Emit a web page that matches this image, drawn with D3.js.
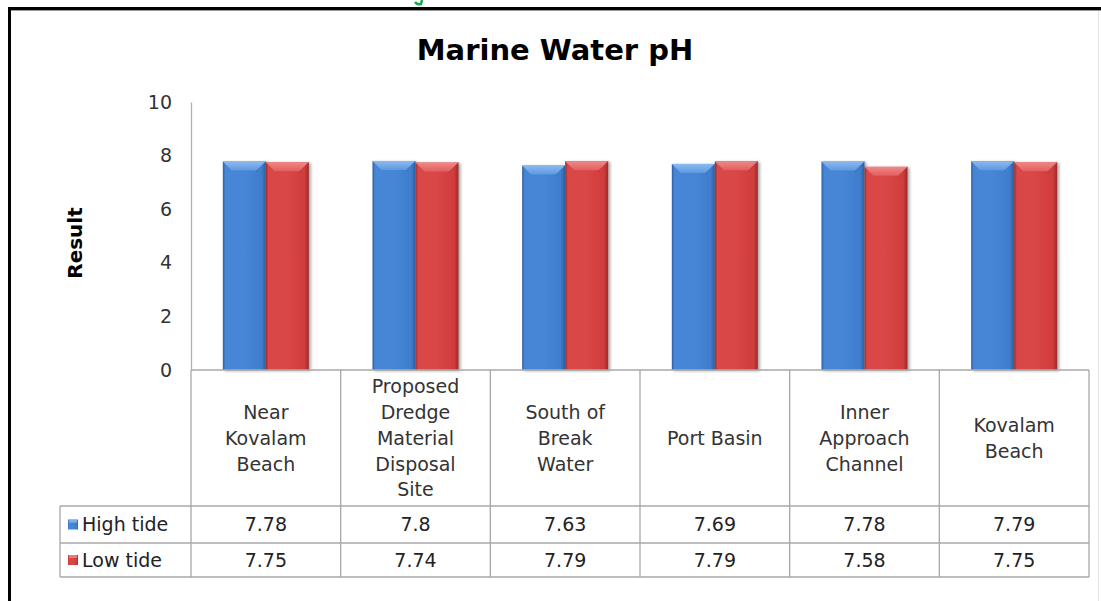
<!DOCTYPE html>
<html><head><meta charset="utf-8">
<script src="https://cdn.jsdelivr.net/npm/d3@7"></script>
<style>
html,body{margin:0;padding:0;background:#fff;}
svg{display:block;font-family:"DejaVu Sans",Verdana,sans-serif;}
</style></head>
<body><svg id="c" width="1101" height="601"></svg>
<script>
const categories = ["Near Kovalam Beach","Proposed Dredge Material Disposal Site","South of Break Water","Port Basin","Inner Approach Channel","Kovalam Beach"];
const categoryLines = [["Near","Kovalam","Beach"],["Proposed","Dredge","Material","Disposal","Site"],["South of","Break","Water"],["Port Basin"],["Inner","Approach","Channel"],["Kovalam","Beach"]];
const seriesNames = ["High tide","Low tide"];
const highTide = [7.78, 7.8, 7.63, 7.69, 7.78, 7.79];
const lowTide = [7.75, 7.74, 7.79, 7.79, 7.58, 7.75];
const yTicks = [0, 2, 4, 6, 8, 10];
const title = "Marine Water pH";
const yLabel = "Result";

const svg = d3.select("#c");
const L = 191, R = 1089, T = 102, B = 370;
const rowTop = [506, 543], rowBot = 577, legLeft = 60;

const x0 = d3.scaleBand().domain(categories).range([L, R]).paddingInner(0).paddingOuter(0);
const x1 = d3.scaleBand().domain(seriesNames).range([0, x0.bandwidth()]).paddingInner(0).paddingOuter(0.74);
const y = d3.scaleLinear().domain([0, 10]).range([B, T]);

const defs = svg.append("defs");
const pal = {
  "High tide": {edge:"#2c5d9e", main:"#4686d6", mid:"#3f7dcc", top:"#8cbaf0", topEdge:"#5f98e0"},
  "Low tide": {edge:"#9c2a2a", main:"#da4646", mid:"#d03c3c", top:"#f08888", topEdge:"#e25e5e"}
};
seriesNames.forEach((s,i)=>{
  const p = pal[s];
  const g = defs.append("linearGradient").attr("id","g"+i).attr("x1","0").attr("x2","1").attr("y1","0").attr("y2","0");
  [[0,p.edge],[0.06,p.main],[0.5,p.main],[0.9,p.mid],[1,p.edge]].forEach(d=>g.append("stop").attr("offset",d[0]).attr("stop-color",d[1]));
  const gt = defs.append("linearGradient").attr("id","gt"+i).attr("x1","0").attr("x2","0").attr("y1","0").attr("y2","1");
  [[0,p.top],[1,p.topEdge]].forEach(d=>gt.append("stop").attr("offset",d[0]).attr("stop-color",d[1]));
});
const f = defs.append("filter").attr("id","sh").attr("x","-20%").attr("y","-10%").attr("width","150%").attr("height","130%");
f.append("feGaussianBlur").attr("in","SourceAlpha").attr("stdDeviation",1.5);
f.append("feOffset").attr("dx",2).attr("dy",1).attr("result","ob");
f.append("feComponentTransfer").append("feFuncA").attr("type","linear").attr("slope",0.35);
const fm = f.append("feMerge"); fm.append("feMergeNode"); fm.append("feMergeNode").attr("in","SourceGraphic");

// frame
svg.append("rect").attr("x",8).attr("y",7).attr("width",1093).attr("height",3).attr("fill","#000");
svg.append("rect").attr("x",8).attr("y",10).attr("width",1093).attr("height",1).attr("fill","#999");
svg.append("rect").attr("x",8).attr("y",7).attr("width",3).attr("height",594).attr("fill","#000");
svg.append("rect").attr("x",1098).attr("y",11).attr("width",1).attr("height",590).attr("fill","#e4e4e4");
// cut-off fragment of a green heading above the frame
svg.append("path").attr("d","M415,2 Q417,5 421,4 L422,0").attr("fill","none").attr("stroke","#1aa54a").attr("stroke-width",2.5);

// title
svg.append("text").attr("x",555).attr("y",60).attr("text-anchor","middle").attr("font-size",29).attr("font-weight","bold").attr("fill","#000").text(title);

// y axis
const yAxis = d3.axisLeft(y).tickValues(yTicks).tickSize(0).tickPadding(19);
const ga = svg.append("g").attr("transform",`translate(${L},0)`).call(yAxis);
ga.select(".domain").attr("stroke","#b0b0b0").attr("stroke-width",1.3);
ga.selectAll("text").attr("font-size",19).attr("fill","#333").attr("font-family","DejaVu Sans");
svg.append("text").attr("transform",`translate(82,243) rotate(-90)`).attr("text-anchor","middle").attr("font-size",20).attr("font-weight","bold").attr("fill","#000").text(yLabel);

// bars
const data = [highTide, lowTide];
seriesNames.forEach((s,si)=>{
  const g = svg.append("g").attr("filter","url(#sh)");
  categories.forEach((c,ci)=>{
    const v = data[si][ci];
    const bx = x0(c) + x1(s), bw = x1.bandwidth(), by = y(v), bh = B - by;
    g.append("rect").attr("x",bx).attr("y",by).attr("width",bw).attr("height",bh).attr("fill",`url(#g${si})`);
    const bev = 9;
    g.append("path").attr("d",`M${bx},${by}L${bx+bw},${by}L${bx+bw-bev},${by+bev}L${bx+bev},${by+bev}Z`).attr("fill",`url(#gt${si})`);
    g.append("path").attr("d",`M${bx+bw},${by}L${bx+bw-bev},${by+bev}L${bx+bw-bev},${by+bev+2}`).attr("stroke",pal[s].edge).attr("stroke-opacity",0.35).attr("fill","none");
  });
});

// table
const tg = svg.append("g");
const lc = "#a8a8a8";
tg.append("line").attr("x1",L).attr("x2",R).attr("y1",B).attr("y2",B).attr("stroke",lc).attr("stroke-width",1.3);
rowTop.forEach(ry=>tg.append("line").attr("x1",legLeft).attr("x2",R).attr("y1",ry).attr("y2",ry).attr("stroke",lc).attr("stroke-width",1.3));
tg.append("line").attr("x1",legLeft).attr("x2",R).attr("y1",rowBot).attr("y2",rowBot).attr("stroke",lc).attr("stroke-width",1.3);
tg.append("line").attr("x1",legLeft).attr("x2",legLeft).attr("y1",rowTop[0]).attr("y2",rowBot).attr("stroke",lc).attr("stroke-width",1.3);
tg.append("line").attr("x1",L).attr("x2",L).attr("y1",B).attr("y2",rowBot).attr("stroke",lc).attr("stroke-width",1.3);
categories.forEach(c=>{
  tg.append("line").attr("x1",x0(c)+x0.bandwidth()).attr("x2",x0(c)+x0.bandwidth()).attr("y1",B).attr("y2",rowBot).attr("stroke",lc).attr("stroke-width",1.3);
});
categories.forEach((c,ci)=>{
  const lines = categoryLines[ci];
  const cx = x0(c) + x0.bandwidth()/2;
  const midY = (B + rowTop[0]) / 2;
  const lh = 25.8;
  lines.forEach((ln,li)=>{
    tg.append("text").attr("x",cx).attr("y",midY + (li - (lines.length-1)/2)*lh).attr("dy","0.36em")
      .attr("text-anchor","middle").attr("font-size",19).attr("fill","#333").text(ln);
  });
  seriesNames.forEach((s,si)=>{
    const ry0 = rowTop[si], ry1 = si===0 ? rowTop[1] : rowBot;
    tg.append("text").attr("x",cx).attr("y",(ry0+ry1)/2).attr("dy","0.36em").attr("text-anchor","middle").attr("font-size",19).attr("fill","#222").text(data[si][ci]);
  });
});
seriesNames.forEach((s,si)=>{
  const ry0 = rowTop[si], ry1 = si===0 ? rowTop[1] : rowBot, cy=(ry0+ry1)/2;
  tg.append("rect").attr("x",68).attr("y",cy-5).attr("width",10).attr("height",10).attr("fill",`url(#g${si})`);
  tg.append("rect").attr("x",69).attr("y",cy-5).attr("width",8).attr("height",3).attr("fill",pal[s].top).attr("opacity",0.8);
  tg.append("text").attr("x",82).attr("y",cy).attr("dy","0.36em").attr("font-size",19).attr("fill","#222").text(s);
});
</script></body></html>
